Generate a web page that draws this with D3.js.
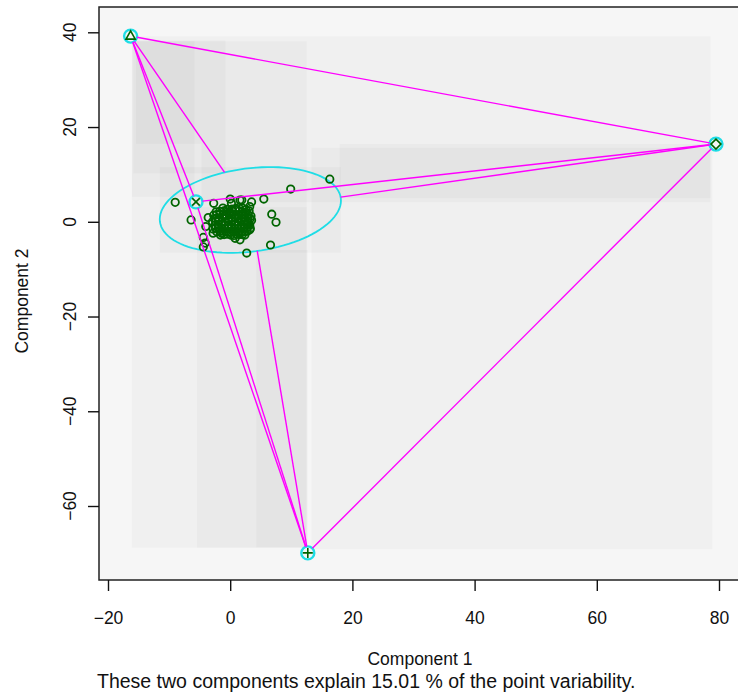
<!DOCTYPE html>
<html>
<head>
<meta charset="utf-8">
<script src="https://cdn.jsdelivr.net/npm/d3@7"></script>
<style>
  body { margin: 0; background: #fff; }
  svg { display: block; }
  text { font-family: "Liberation Sans", Arial, Helvetica, sans-serif; fill: #111; }
</style>
</head>
<body>
<svg id="chart" width="738" height="695"></svg>
<script>
// ---- data ----
const xTicks = [-20, 0, 20, 40, 60, 80];
const yTicks = [-60, -40, -20, 0, 20, 40];

// one-member clusters (symbol, component 1, component 2)
const singletonShapes = ["triangle", "diamond", "plus", "cross"];
const singletonX = [-16.3, 79.5, 12.7, -5.6];
const singletonY = [39.2, 16.4, -69.9, 4.2];

// the large cluster: component scores of its members
const clusterX = [
  -1.2, 0.3, 1.4, 2.6, -0.5, 0.9, 2.0,
  -2.3, -1.0, -0.1, 0.9, 2.0, 3.1, -1.7, -0.5, 0.4, 1.5, 2.6,
  -2.7, -1.7, -0.6, 0.4, 1.3, 2.4, 3.4, -2.2, -1.1, -0.1, 0.9, 1.9, 2.9,
  -2.4, -1.3, -0.2, 0.8, 1.8, 2.9, -1.9, -0.8, 0.3, 1.3, 2.4, 3.3,
  -2.9, -1.9, -0.8, 0.3, 1.3, 2.3, 3.5, -2.4, -1.3, -0.3, 0.8, 1.8, 2.9,
  -2.5, -1.4, -0.3, 0.8, 1.8, 2.8, -2.0, -0.9, 0.2, 1.3, 2.3, 3.2,
  -2.8, -1.9, -0.9, 0.2, 1.2, 2.3, 3.3, -2.4, -1.4, -0.4, 0.7, 1.8, 2.8,
  -2.2, -1.2, -0.2, 0.9, 1.9, 2.8, -1.7, -0.7, 0.4, 1.4, 2.4,
  -1.6, -0.5, 0.6, 1.5, 2.4, -1.0, 0.1, 1.0, 2.0,
  -9.0, -6.4, 16.3, 9.9, 5.5, 3.5, 3.2, 1.6, 0.2, -2.7,
  6.8, 7.5, 6.6, 2.7, -4.4, -4.4, 0.8, 0.0, 1.9, 3.0,
  3.2, 1.6, -1.4, -2.8, -4.1, -4.0, -3.6
];
const clusterY = [
  2.9, 2.7, 3.0, 2.6, 2.6, 2.8, 2.9,
  2.1, 2.3, 2.0, 2.4, 2.1, 2.3, 2.2, 2.1, 2.2, 2.3, 2.0,
  1.4, 1.6, 1.4, 1.7, 1.3, 1.6, 1.2, 1.5, 1.5, 1.6, 1.5, 1.4, 1.5,
  0.7, 0.9, 0.6, 0.9, 0.7, 0.8, 0.8, 0.7, 0.8, 0.6, 0.9, 0.7,
  0.0, 0.2, -0.1, 0.2, -0.1, 0.1, 0.3, 0.1, 0.0, 0.1, 0.0, 0.2, 0.0,
  -0.7, -0.5, -0.8, -0.5, -0.7, -0.6, -0.6, -0.7, -0.6, -0.7, -0.5, -0.7,
  -1.5, -1.2, -1.4, -1.2, -1.5, -1.3, -1.4, -1.3, -1.3, -1.3, -1.4, -1.3, -1.2,
  -2.1, -2.0, -2.2, -2.0, -2.2, -2.0, -2.0, -2.1, -2.0, -2.1, -2.1,
  -2.8, -2.6, -2.9, -2.7, -2.8, -2.7, -2.8, -2.6, -2.7,
  4.1, 0.4, 9.0, 6.9, 4.8, 4.2, 3.2, 4.6, 3.9, 3.9,
  1.6, -0.1, -4.9, -6.6, -3.3, -5.3, -3.5, 4.8, 4.6, -0.3,
  -1.7, -3.8, -2.4, -2.4, -4.5, -1.0, 0.9
];

// spanning ellipse of the large cluster: centre and two semi-axis vectors
const ellipseCenter = [3.3, 2.5];
const ellipseAxisA = [14.8, 2.5];
const ellipseAxisB = [0.9, -8.7];

const xTitle = "Component 1";
const yTitle = "Component 2";
const caption = "These two components explain 15.01 % of the point variability.";

// ---- drawing ----
const svg = d3.select("#chart");
const x = d3.scaleLinear().domain([-20, 80]).range([108, 719]);
const y = d3.scaleLinear().domain([-60, 40]).range([506, 32.3]);

const panel = { left: 99, top: 7, right: 760, bottom: 580 };
const green = "#006400", cyan = "#1fdde6", magenta = "#ff00ff";
const ringR = 6.5;

svg.append("rect")
  .attr("x", panel.left).attr("y", panel.top)
  .attr("width", panel.right - panel.left).attr("height", panel.bottom - panel.top)
  .attr("fill", "#f6f6f6");

// clusters in pixel space
const E = {
  c: [x(ellipseCenter[0]), y(ellipseCenter[1])],
  a: [x(ellipseCenter[0] + ellipseAxisA[0]) - x(ellipseCenter[0]), y(ellipseCenter[1] + ellipseAxisA[1]) - y(ellipseCenter[1])],
  b: [x(ellipseCenter[0] + ellipseAxisB[0]) - x(ellipseCenter[0]), y(ellipseCenter[1] + ellipseAxisB[1]) - y(ellipseCenter[1])]
};
const det = E.a[0] * E.b[1] - E.b[0] * E.a[1];
const inv = v => [(E.b[1] * v[0] - E.b[0] * v[1]) / det, (-E.a[1] * v[0] + E.a[0] * v[1]) / det];
const norm = v => Math.hypot(v[0], v[1]);

const clusters = [{ kind: "ellipse", c: E.c }].concat(
  singletonShapes.map((s, i) => ({ kind: "single", shape: s, c: [x(singletonX[i]), y(singletonY[i])] }))
);
// distance from a cluster's centre to its boundary along direction u
const reach = (cl, u) => cl.kind === "single" ? ringR : 1 / norm(inv(u));
const inside = (cl, p) => cl.kind === "ellipse" && norm(inv([p[0] - E.c[0], p[1] - E.c[1]])) < 1;

const segments = [];
for (let i = 0; i < clusters.length; i++) {
  for (let j = i + 1; j < clusters.length; j++) {
    const ci = clusters[i], cj = clusters[j];
    if (inside(ci, cj.c) || inside(cj, ci.c)) continue;
    const d = [cj.c[0] - ci.c[0], cj.c[1] - ci.c[1]];
    const L = norm(d), u = [d[0] / L, d[1] / L];
    const ri = reach(ci, u), rj = reach(cj, [-u[0], -u[1]]);
    if (ri + rj >= L) continue;
    segments.push({
      x1: ci.c[0] + ri * u[0], y1: ci.c[1] + ri * u[1],
      x2: cj.c[0] - rj * u[0], y2: cj.c[1] - rj * u[1]
    });
  }
}

// faint shading over each segment's extent and over the ellipse
const ellPts = d3.range(0, 101).map(k => {
  const t = 2 * Math.PI * k / 100;
  return [ellipseCenter[0] + ellipseAxisA[0] * Math.cos(t) + ellipseAxisB[0] * Math.sin(t),
          ellipseCenter[1] + ellipseAxisA[1] * Math.cos(t) + ellipseAxisB[1] * Math.sin(t)];
});
const ellPx = ellPts.map(p => [x(p[0]), y(p[1])]);
const boxes = segments.map(s => ({
  x0: Math.min(s.x1, s.x2) - 1, x1: Math.max(s.x1, s.x2) + 1,
  y0: Math.min(s.y1, s.y2) - 1, y1: Math.max(s.y1, s.y2) + 1
}));
boxes.push({
  x0: d3.min(ellPx, p => p[0]), x1: d3.max(ellPx, p => p[0]),
  y0: d3.min(ellPx, p => p[1]), y1: d3.max(ellPx, p => p[1])
});
svg.append("g").selectAll("rect").data(boxes).join("rect")
  .attr("x", d => d.x0).attr("y", d => d.y0)
  .attr("width", d => d.x1 - d.x0).attr("height", d => d.y1 - d.y0)
  .attr("fill", "#000").attr("fill-opacity", 0.022);

// ellipse
svg.append("path")
  .attr("d", d3.line().x(p => x(p[0])).y(p => y(p[1]))(ellPts))
  .attr("fill", "none").attr("stroke", cyan).attr("stroke-width", 1.8);

// rings round one-member clusters
svg.append("g").selectAll("circle").data(singletonShapes).join("circle")
  .attr("cx", (d, i) => x(singletonX[i])).attr("cy", (d, i) => y(singletonY[i]))
  .attr("r", ringR).attr("fill", "none").attr("stroke", cyan).attr("stroke-width", 2.4);

// points of the large cluster
svg.append("g").selectAll("circle").data(clusterX).join("circle")
  .attr("cx", d => x(d)).attr("cy", (d, i) => y(clusterY[i]))
  .attr("r", 3.7).attr("fill", "none").attr("stroke", green).attr("stroke-width", 1.8);

// symbols of one-member clusters
const shapePath = {
  triangle: "M0,-5.2L4.6,3L-4.6,3Z",
  diamond: "M0,-5L5,0L0,5L-5,0Z",
  plus: "M-5,0H5M0,-5V5",
  cross: "M-3.8,-3.8L3.8,3.8M-3.8,3.8L3.8,-3.8"
};
svg.append("g").selectAll("path").data(singletonShapes).join("path")
  .attr("transform", (d, i) => `translate(${x(singletonX[i])},${y(singletonY[i])})`)
  .attr("d", d => shapePath[d])
  .attr("fill", "none").attr("stroke", green).attr("stroke-width", 1.6);

// distance segments between clusters
svg.append("g").selectAll("line").data(segments).join("line")
  .attr("x1", d => d.x1).attr("y1", d => d.y1).attr("x2", d => d.x2).attr("y2", d => d.y2)
  .attr("stroke", magenta).attr("stroke-width", 1.4);

// frame
const frame = svg.append("g").attr("stroke", "#222").attr("stroke-width", 1.5).attr("fill", "none");
frame.append("path").attr("d", `M${panel.right},${panel.top}H${panel.left}V${panel.bottom}H${panel.right}`);

// axes
const fmt = d => (d < 0 ? "\u2212" + Math.abs(d) : String(d));
const xAxis = svg.append("g").attr("transform", `translate(0,${panel.bottom})`)
  .call(d3.axisBottom(x).tickValues(xTicks).tickSize(11).tickPadding(21).tickFormat(fmt));
xAxis.select(".domain").remove();
xAxis.selectAll("line").attr("stroke", "#111").attr("stroke-width", 1.4);
xAxis.selectAll("text").attr("font-size", 17.5).attr("fill", "#111")
  .attr("font-family", '"Liberation Sans", Arial, sans-serif');

const yAxis = svg.append("g").attr("transform", `translate(${panel.left},0)`)
  .call(d3.axisLeft(y).tickValues(yTicks).tickSize(11).tickFormat(""));
yAxis.select(".domain").remove();
yAxis.selectAll("line").attr("stroke", "#111").attr("stroke-width", 1.4);
svg.append("g").selectAll("text").data(yTicks).join("text")
  .attr("transform", d => `translate(76,${y(d)}) rotate(-90)`)
  .attr("text-anchor", "middle").attr("font-size", 17.5)
  .text(fmt);

svg.append("text").attr("x", 420).attr("y", 665).attr("text-anchor", "middle")
  .attr("font-size", 17.5).text(xTitle);
svg.append("text").attr("transform", "translate(28,301) rotate(-90)")
  .attr("text-anchor", "middle").attr("font-size", 17.5).text(yTitle);
svg.append("text").attr("x", 97).attr("y", 688).attr("font-size", 19.5).text(caption);
</script>
</body>
</html>
